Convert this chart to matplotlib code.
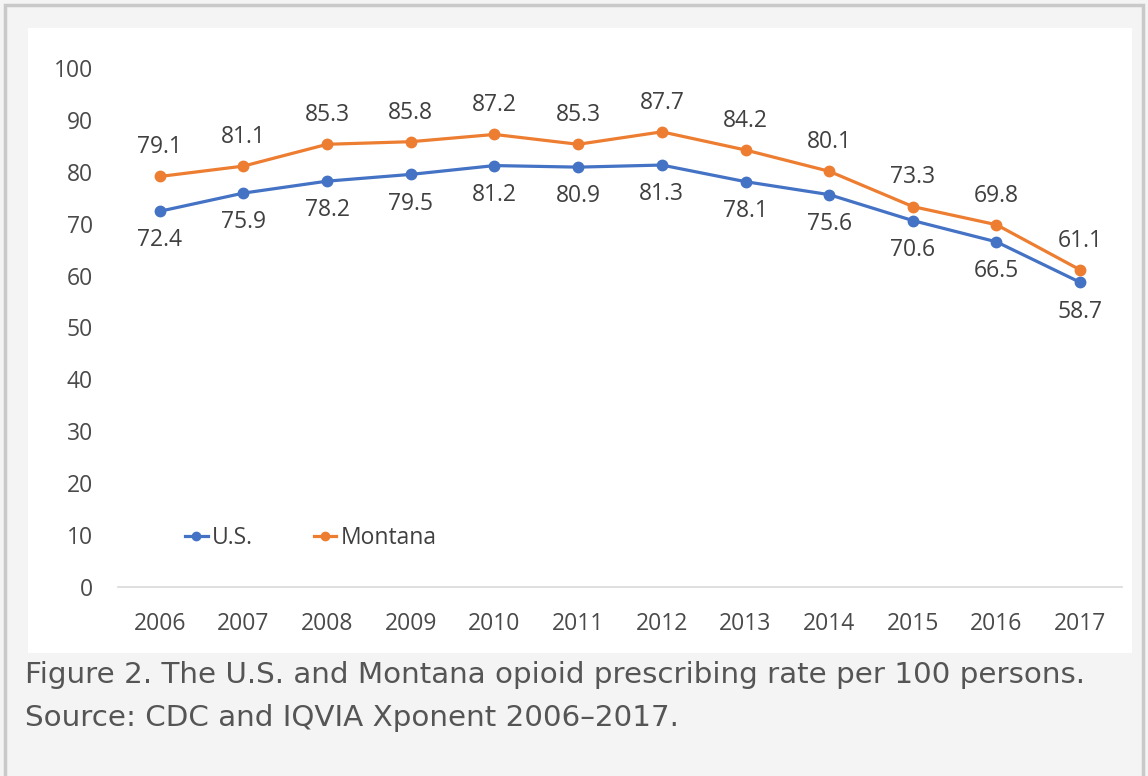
import matplotlib
matplotlib.use("Agg")
import matplotlib.pyplot as plt
from matplotlib.patches import Rectangle
from matplotlib.lines import Line2D

years = ["2006", "2007", "2008", "2009", "2010", "2011", "2012", "2013", "2014", "2015", "2016", "2017"]
us = [72.4, 75.9, 78.2, 79.5, 81.2, 80.9, 81.3, 78.1, 75.6, 70.6, 66.5, 58.7]
montana = [79.1, 81.1, 85.3, 85.8, 87.2, 85.3, 87.7, 84.2, 80.1, 73.3, 69.8, 61.1]
yticks = [0, 10, 20, 30, 40, 50, 60, 70, 80, 90, 100]
caption = ["Figure 2. The U.S. and Montana opioid prescribing rate per 100 persons.",
           "Source: CDC and IQVIA Xponent 2006\u20132017."]

W, H = 1148, 776
fig = plt.figure(figsize=(W / 100, H / 100), dpi=100)
fig.patch.set_facecolor("#f4f4f4")

# outer frame and white chart panel
fig.patches.append(Rectangle((5 / W, -0.05), 1138 / W, 1.05 - 5 / H, transform=fig.transFigure,
                             facecolor="none", edgecolor="#c9c9c9", linewidth=2.5, zorder=-2))
fig.patches.append(Rectangle((28 / W, 1 - 653 / H), 1104 / W, 625 / H, transform=fig.transFigure,
                             facecolor="white", edgecolor="none", zorder=-1))

ax = fig.add_axes([118 / W, 1 - 587 / H, 1004 / W, 519 / H])
ax.set_zorder(2)
ax.set_facecolor("none")
x = list(range(len(years)))
blue = "#4472C4"
orange = "#ED7D31"
ax.plot(x, us, color=blue, lw=2.3, marker="o", ms=7.5, zorder=3)
ax.plot(x, montana, color=orange, lw=2.3, marker="o", ms=7.5, zorder=3)

ax.set_xlim(-0.5, len(years) - 0.5)
ax.set_ylim(0, 100)
ax.set_yticks(yticks)
ax.set_xticks(x)
ax.set_xticklabels(years)
for s in ["top", "right", "left"]:
    ax.spines[s].set_visible(False)
ax.spines["bottom"].set_color("#d9d9d9")
ax.spines["bottom"].set_linewidth(1.2)
ax.tick_params(axis="both", length=0, colors="#4a4a4a", labelsize=16.5)
ax.tick_params(axis="y", pad=18)
ax.tick_params(axis="x", pad=18)
for lab in ax.get_yticklabels() + ax.get_xticklabels():
    lab.set_fontfamily("Open Sans")

for xi, v in zip(x, montana):
    ax.annotate(f"{v}", (xi, v), xytext=(0, 21), textcoords="offset points", ha="center", va="center",
                fontsize=16.5, color="#404040", family="Open Sans")
for xi, v in zip(x, us):
    ax.annotate(f"{v}", (xi, v), xytext=(0, -21), textcoords="offset points", ha="center", va="center",
                fontsize=16.5, color="#404040", family="Open Sans")

handles = [Line2D([], [], color=blue, lw=2.3, marker="o", ms=6),
           Line2D([], [], color=orange, lw=2.3, marker="o", ms=6)]
ax.legend(handles, ["U.S.", "Montana"], loc="center left", bbox_to_anchor=(67 / 1004, 49 / 519), ncol=2,
          frameon=False, handlelength=1.0, handletextpad=0.17, columnspacing=2.65,
          borderaxespad=0, borderpad=0,
          prop={"family": "Open Sans", "size": 16.5}, labelcolor="#404040")

fig.text(25 / W, 1 - 675 / H, caption[0], ha="left", va="center", fontsize=21.2, color="#555555",
         family="DejaVu Sans")
fig.text(25 / W, 1 - 718 / H, caption[1], ha="left", va="center", fontsize=21.2, color="#555555",
         family="DejaVu Sans")

fig.savefig("out.png", dpi=100, facecolor=fig.get_facecolor())
